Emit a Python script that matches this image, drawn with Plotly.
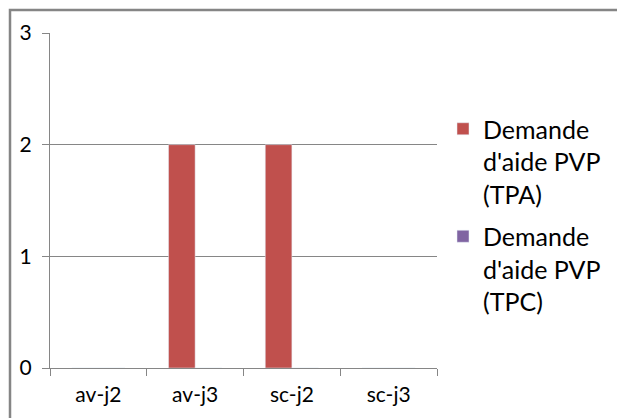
import plotly.graph_objects as go

categories = ["av-j2", "av-j3", "sc-j2", "sc-j3"]
tpa_values = [0, 2, 2, 0]
tpc_values = [0, 0, 0, 0]
series_names = ["Demande<br>d'aide PVP<br>(TPA)", "Demande<br>d'aide PVP<br>(TPC)"]
y_ticks = [0, 1, 2, 3]

W, H = 617, 418
L, R, T, B = 50, 180, 33, 50
pw, ph = W - L - R, H - T - B

fig = go.Figure()
fig.add_trace(go.Bar(x=categories, y=tpa_values, name=series_names[0], legendgroup="a",
                     marker_color="#C0504D"))
fig.add_trace(go.Bar(x=categories, y=tpc_values, name=series_names[1], legendgroup="b",
                     marker_color="#8064A2"))

font = "Lato, Carlito, Calibri, sans-serif"
axcol = "#868686"

# outer chart border (cropped in reference)
bx = (10 - L) / pw
by = 1 + (T - 10) / ph
fig.add_shape(type="rect", xref="paper", yref="paper", x0=bx, x1=1.6, y0=-0.5, y1=by,
              line=dict(color="#858585", width=2.5), fillcolor="rgba(0,0,0,0)", layer="above")

fig.update_layout(
    width=W, height=H,
    margin=dict(l=L, r=R, t=T, b=B, autoexpand=False),
    paper_bgcolor="white", plot_bgcolor="white",
    barmode="group", bargap=0.45, bargroupgap=0,
    font=dict(family=font, color="#000000", size=20),
    showlegend=True,
    legend=dict(x=(443 - L) / pw, xanchor="left", y=1 - (106 - T) / ph, yanchor="top",
                valign="top", traceorder="grouped",
                font=dict(size=25, family=font, color="#000000"),
                tracegroupgap=7, bgcolor="rgba(0,0,0,0)"),
    xaxis=dict(type="category", showline=True, linecolor=axcol, linewidth=1,
               ticks="outside", ticklen=7, tickcolor=axcol, tickson="boundaries",
               showgrid=False, tickfont=dict(size=21, family=font, color="#000000"),
               ticklabelstandoff=8),
    yaxis=dict(range=[0, 3], tickvals=y_ticks, showline=True, linecolor=axcol, linewidth=1,
               ticks="outside", ticklen=7, tickcolor=axcol, showgrid=True,
               gridcolor=axcol, gridwidth=1, zeroline=False,
               tickfont=dict(size=21, family=font, color="#000000"), ticklabelstandoff=6),
)

fig.write_html("out.html", config={"displayModeBar": False},
               post_script="document.body.style.margin='0';")
